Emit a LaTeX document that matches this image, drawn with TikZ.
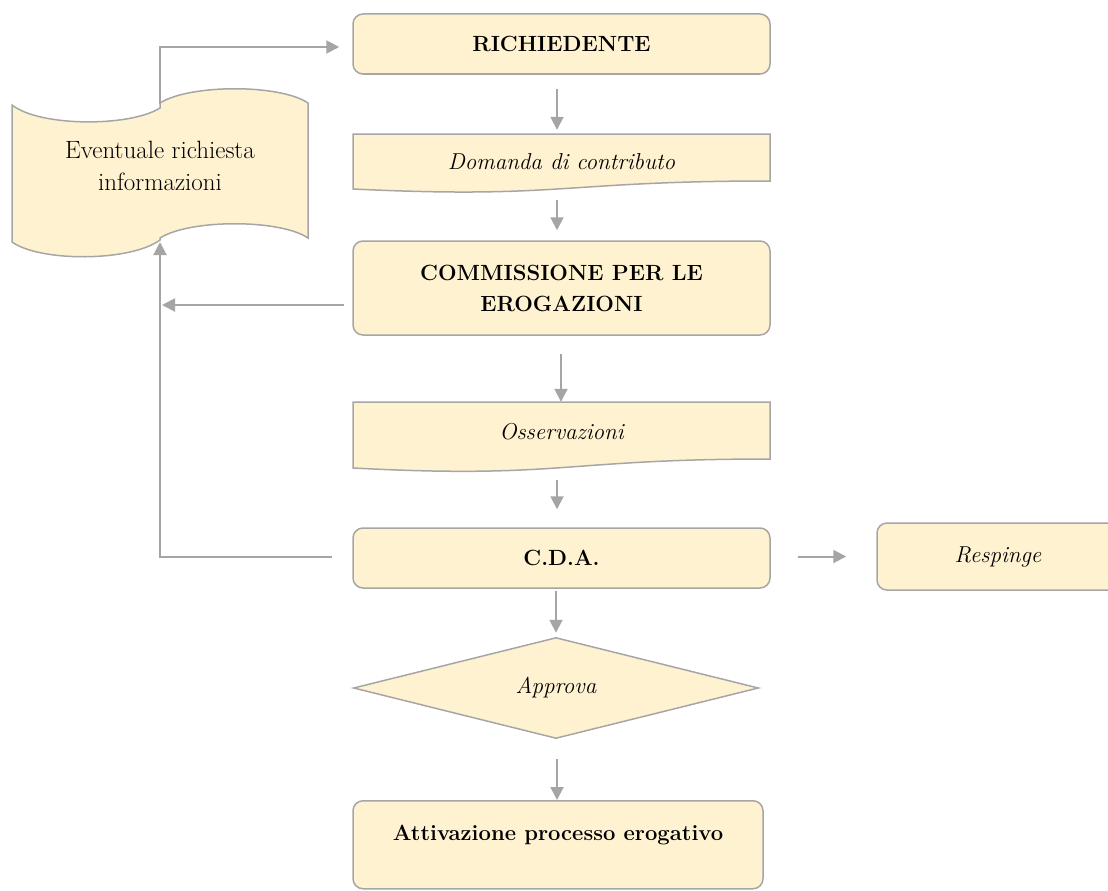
\documentclass[tikz,border=0pt]{standalone}
\usepackage{fontspec}
\usetikzlibrary{shapes.geometric,arrows.meta,calc}
\definecolor{boxfill}{HTML}{FFF2D0}
\definecolor{boxline}{HTML}{A6A6A6}
\definecolor{arrgray}{HTML}{A5A5A5}
\newcommand\myfs{\fontsize{23}{31}\selectfont}
\newcommand\rmfs{\fontsize{25}{32}\selectfont}
\newcommand\bffs{\fontsize{22}{31}\selectfont\bfseries}
\begin{document}
\begin{tikzpicture}[x=1pt,y=-1pt,
  every node/.style={font=\myfs},
  rbox/.style={draw=boxline, line width=1.5pt, fill=boxfill, rounded corners=10pt,
    minimum width=417pt, minimum height=60pt, inner sep=0pt, align=center},
  lbl/.style={minimum width=417pt, inner sep=0pt, align=center},
  shp/.style={draw=boxline, line width=1.5pt, fill=boxfill},
  arr/.style={draw=arrgray, line width=2pt, -{Triangle[length=13pt,width=13pt]}},
]
\useasboundingbox (0,0) rectangle (1108,891);

% shapes drawn directly
\path[shp] (12,105) .. controls (40,127) and (130,127) .. (160,108)
  -- (160,103) .. controls (190,84) and (280,84) .. (308,103) -- (308,238)
  .. controls (280,219) and (190,219) .. (160,238) -- (160,240)
  .. controls (130,262) and (40,262) .. (12,242) -- cycle;
\path[shp] (353,134) -- (770,134) -- (770,181)
  .. controls (561.5,181) and (561.5,199) .. (353,189) -- cycle;
\path[shp] (353,402) -- (770,402) -- (770,459)
  .. controls (561.5,459) and (561.5,479) .. (353,468) -- cycle;

% nodes
\node[align=center, font=\rmfs] (tape) at (160,166) {Eventuale richiesta\\informazioni};
\coordinate (tapetop) at (160,104);
\coordinate (tapebot) at (160,242);
\coordinate (jn) at (162,305);

\node[rbox, font=\bffs] (ric) at (561.5,44) {RICHIEDENTE};
\node[lbl, minimum height=56pt, font=\myfs\itshape] (dom) at (561.5,162) {Domanda di contributo};
\node[rbox, minimum height=94pt, font=\bffs] (com) at (561.5,288) {COMMISSIONE PER LE\\EROGAZIONI};
\node[lbl, minimum height=60pt, font=\myfs\itshape] (oss) at (561.5,432) {Osservazioni};
\node[rbox, font=\bffs] (cda) at (561.5,558) {C.D.A.};
\node[rbox, minimum width=242pt, minimum height=67pt, font=\myfs\itshape] (resp) at (998,556.5) {Respinge};
\node[shp, diamond, aspect=4, minimum width=405pt, minimum height=101pt, inner sep=0pt,
  font=\myfs\itshape] (dia) at (556,688) {Approva};
\node[rbox, minimum width=410pt, text height=32pt, text depth=40pt, inner ysep=8pt,
  anchor=north, font=\bffs] (att) at (558,800) {Attivazione processo erogativo};

% connectors
\draw[arr] ([xshift=-4.5pt,yshift=-14pt]ric.south) -- ([xshift=-4.5pt,yshift=4pt]dom.north);
\draw[arr] ([xshift=-4.5pt,yshift=-10pt]dom.south) -- ([xshift=-4.5pt,yshift=10pt]com.north);
\draw[arr] ([xshift=-0.5pt,yshift=-18pt]com.south) -- ([xshift=-0.5pt]oss.north);
\draw[arr] ([xshift=-4.5pt,yshift=-18pt]oss.south) -- ([xshift=-4.5pt,yshift=18pt]cda.north);
\draw[arr] ([xshift=-5.5pt,yshift=-2pt]cda.south) -- ([yshift=4pt]dia.north);
\draw[arr] ([xshift=1pt,yshift=-20pt]dia.south) -- ([xshift=-1pt]att.north);
\draw[arr] ([xshift=27pt,yshift=1.5pt]cda.east) -- ([xshift=-30pt]resp.west);
\draw[arr] ([xshift=-8pt,yshift=-17pt]com.west) -- (jn);
\draw[arr] ([xshift=-20pt,yshift=1pt]cda.west) -| (tapebot);
\draw[arr] (tapetop) |- ([xshift=-13pt,yshift=-3pt]ric.west);
\end{tikzpicture}
\end{document}
